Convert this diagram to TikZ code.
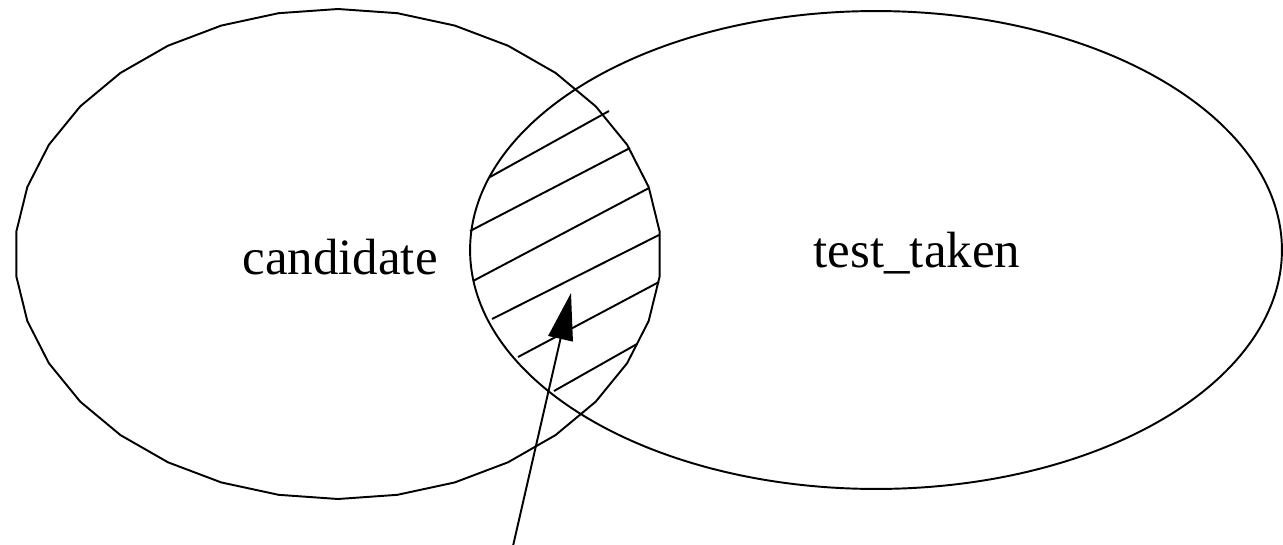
\documentclass[tikz,border=0pt]{standalone}
\usepackage{fontspec}
\setmainfont{Liberation Serif}
\usetikzlibrary{arrows.meta}

\begin{document}
\begin{tikzpicture}[
  x=0.02cm, y=-0.02cm,
  font=\fontsize{29}{34}\selectfont,
  set/.style={line width=1.1pt},
  hatch/.style={line width=1.1pt},
  pointer/.style={-{Triangle[length=0.94cm,width=0.5cm]}, line width=1.1pt}
]
\useasboundingbox (0,0) rectangle (1283,544);

% the two sets
\draw[set] plot[domain=90:450, samples=35] ({338+323*cos(\x)}, {254+245*sin(\x)});
\draw[set] (876,250) ellipse [x radius=8.12cm, y radius=4.78cm];

% hatching of the overlap
\foreach \ax/\ay/\bx/\by in {490/177/609/111, 470/231/630/148, 473/281/649/188,
    492/319/659/235, 518/357/659/282, 554/391/637/344}
  \draw[hatch] (\ax,\ay) -- (\bx,\by);

% set names
\node[anchor=base] (candidate) at (340,274) {candidate};
\node[anchor=base] (testtaken) at (917,267) {test\_taken};

% pointer into the overlap
\coordinate (tail) at (513,546);
\coordinate (overlap) at (571,293);
\draw[pointer] (tail) -- (overlap);

\end{tikzpicture}
\end{document}
